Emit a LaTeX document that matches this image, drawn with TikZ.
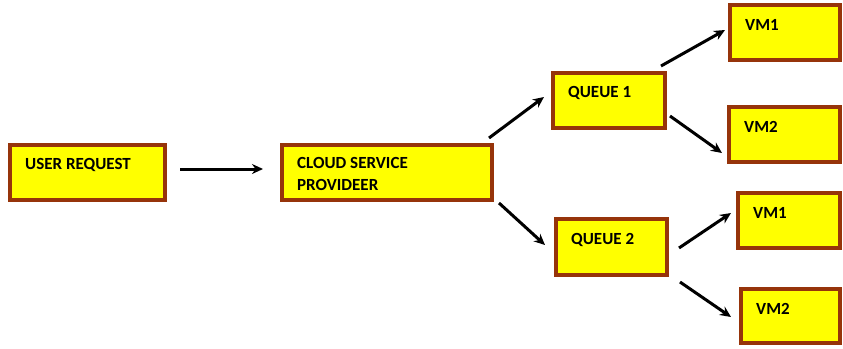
\documentclass[tikz,border=0pt]{standalone}
\usepackage{fontspec}
\setmainfont{Carlito}
\usetikzlibrary{arrows.meta}
\definecolor{boxborder}{RGB}{150,52,10}
\definecolor{boxfill}{RGB}{255,255,0}
\tikzset{
  box/.style={draw=boxborder, fill=boxfill, line width=3.5pt, anchor=north west, inner sep=0pt, outer sep=0pt},
  boxtext/.style={anchor=west, inner sep=0pt, font=\fontsize{17}{22}\selectfont\bfseries, align=left, xshift=15pt, yshift=-20pt},
  conn/.style={line width=3pt, -{Stealth[length=11pt,width=10pt]}}
}
\begin{document}
\begin{tikzpicture}[x=1pt,y=-1pt]
\useasboundingbox (0,0) rectangle (843,348);
\node[box, minimum width=155pt, minimum height=55pt,
  label={[boxtext]north west:USER REQUEST}] (ur) at (10,145) {};
\node[box, minimum width=210pt, minimum height=55pt,
  label={[boxtext, yshift=-9pt]north west:CLOUD SERVICE\\PROVIDEER}] (csp) at (282,145) {};
\node[box, minimum width=112pt, minimum height=55pt,
  label={[boxtext]north west:QUEUE 1}] (q1) at (553,73) {};
\node[box, minimum width=111pt, minimum height=56pt,
  label={[boxtext, yshift=-1pt]north west:QUEUE 2}] (q2) at (556,219) {};
\node[box, minimum width=110pt, minimum height=55pt,
  label={[boxtext]north west:VM1}] (vm1a) at (730,5) {};
\node[box, minimum width=111pt, minimum height=55pt,
  label={[boxtext]north west:VM2}] (vm2a) at (729,107) {};
\node[box, minimum width=102pt, minimum height=55pt,
  label={[boxtext]north west:VM1}] (vm1b) at (738,193) {};
\node[box, minimum width=99pt, minimum height=54pt,
  label={[boxtext]north west:VM2}] (vm2b) at (741,289) {};

\draw[conn] ([shift={(15,-3.5)}]ur.east) -- ([shift={(-19,-3.5)}]csp.west);
\draw[conn] ([shift={(-3,-7)}]csp.north east) -- ([shift={(-9,-3.5)}]q1.west);
\draw[conn] ([shift={(7,3)}]csp.south east) -- ([shift={(-11,-2)}]q2.west);
\draw[conn] ([shift={(-4,-7)}]q1.north east) -- ([shift={(-5,-2.5)}]vm1a.west);
\draw[conn] ([shift={(5,15.5)}]q1.east) -- ([shift={(-7,-9)}]vm2a.south west);
\draw[conn] ([shift={(12,1)}]q2.east) -- ([shift={(-7,-7.5)}]vm1b.west);
\draw[conn] ([shift={(13,7)}]q2.south east) -- ([shift={(-10,1)}]vm2b.west);
\end{tikzpicture}
\end{document}
